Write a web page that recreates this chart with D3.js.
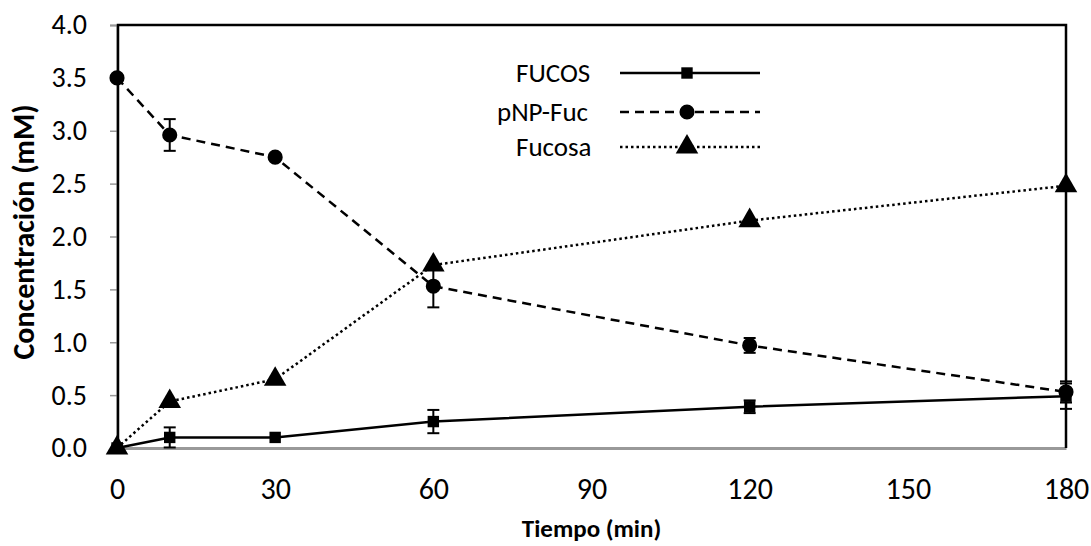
<!DOCTYPE html>
<html>
<head>
<meta charset="utf-8">
<script src="https://cdn.jsdelivr.net/npm/d3@7"></script>
<style>
  body { margin: 0; background: #fff; }
  text { font-family: Carlito, Lato, "Open Sans", sans-serif; fill: #000; }
</style>
</head>
<body>
<script>
// data
var tiempo = [0, 10, 30, 60, 120, 180]
var fucos = [0, 0.1, 0.1, 0.25, 0.39, 0.49]
var fucosErr = [0, 0.095, 0, 0.11, 0.06, 0.12]
var pnpFuc = [3.5, 2.96, 2.75, 1.53, 0.97, 0.53]
var pnpFucErr = [0, 0.15, 0, 0.2, 0.07, 0.1]
var fucosa = [0, 0.44, 0.65, 1.73, 2.15, 2.48]
var xTicks = [0, 30, 60, 90, 120, 150, 180]
var yTicks = [0, 0.5, 1, 1.5, 2, 2.5, 3, 3.5, 4]

var w = 1091, h = 546
var margin = {left: 117, right: 25, top: 25, bottom: 98}

var svg = d3.select('body').append('svg')
    .attr('width', w)
    .attr('height', h)

var x = d3.scaleLinear().domain([0, 180]).range([margin.left, w - margin.right])
var y = d3.scaleLinear().domain([0, 4]).range([h - margin.bottom, margin.top])

// y ticks + labels
var yAxis = svg.append('g')
    .attr('transform', 'translate(' + margin.left + ',0)')
    .call(d3.axisLeft(y).tickValues(yTicks).tickSize(7).tickPadding(23).tickFormat(d3.format('.1f')))
yAxis.select('.domain').attr('stroke', '#999').attr('stroke-width', 2)
yAxis.selectAll('.tick line').attr('stroke', '#999').attr('stroke-width', 1.5)
yAxis.selectAll('.tick text').style('font-size', '28px')

// x axis (no tick marks)
var xAxis = svg.append('g')
    .attr('transform', 'translate(0,' + y(0) + ')')
    .call(d3.axisBottom(x).tickValues(xTicks).tickSize(0).tickPadding(30))
xAxis.select('.domain').attr('stroke', '#999').attr('stroke-width', 3)
xAxis.selectAll('.tick text').style('font-size', '30px')

// plot area border (top, right, left)
svg.append('path')
    .attr('d', 'M' + (x(0) + 1) + ',' + y(0) + 'V' + y(4) + 'H' + x(180) + 'V' + y(0))
    .attr('fill', 'none')
    .attr('stroke', '#000')
    .attr('stroke-width', 2.5)

// axis titles
svg.append('text')
    .attr('x', (x(0) + x(180)) / 2)
    .attr('y', 537)
    .attr('text-anchor', 'middle')
    .style('font-size', '25px')
    .style('font-weight', 'bold')
    .text('Tiempo (min)')

svg.append('text')
    .attr('transform', 'translate(34,232) rotate(-90)')
    .attr('text-anchor', 'middle')
    .style('font-size', '30px')
    .style('font-weight', 'bold')
    .text('Concentración (mM)')

var series = [
    {name: 'FUCOS', vals: fucos, err: fucosErr, dash: null, shape: d3.symbolSquare, size: 130, lx: 516, ly: 73},
    {name: 'pNP-Fuc', vals: pnpFuc, err: pnpFucErr, dash: '9,6', shape: d3.symbolCircle, size: 180, lx: 497, ly: 112},
    {name: 'Fucosa', vals: fucosa, err: null, dash: '2.5,3', shape: d3.symbolTriangle, size: 220, lx: 516, ly: 147}
]

var line = d3.line()
    .x(function(d) { return x(d[0]) })
    .y(function(d) { return y(d[1]) })

series.forEach(function(s) {
    var pts = tiempo.map(function(t, i) { return [t, s.vals[i], s.err ? s.err[i] : 0] })

    svg.append('path')
        .datum(pts)
        .attr('d', line)
        .attr('fill', 'none')
        .attr('stroke', '#000')
        .attr('stroke-width', 2.5)
        .attr('stroke-dasharray', s.dash)

    // error bars
    if (s.err) {
        var eb = svg.append('g').selectAll('g')
            .data(pts.filter(function(d) { return d[2] > 0 }))
            .enter().append('g')
            .attr('stroke', '#000')
            .attr('stroke-width', 2)
        eb.append('line')
            .attr('x1', function(d) { return x(d[0]) })
            .attr('x2', function(d) { return x(d[0]) })
            .attr('y1', function(d) { return y(d[1] - d[2]) })
            .attr('y2', function(d) { return y(d[1] + d[2]) })
        eb.append('line')
            .attr('x1', function(d) { return x(d[0]) - 6 })
            .attr('x2', function(d) { return x(d[0]) + 6 })
            .attr('y1', function(d) { return y(d[1] - d[2]) })
            .attr('y2', function(d) { return y(d[1] - d[2]) })
        eb.append('line')
            .attr('x1', function(d) { return x(d[0]) - 6 })
            .attr('x2', function(d) { return x(d[0]) + 6 })
            .attr('y1', function(d) { return y(d[1] + d[2]) })
            .attr('y2', function(d) { return y(d[1] + d[2]) })
    }

    svg.append('g').selectAll('path')
        .data(pts)
        .enter().append('path')
        .attr('d', d3.symbol().type(s.shape).size(s.size))
        .attr('transform', function(d) { return 'translate(' + x(d[0]) + ',' + y(d[1]) + ')' })
        .attr('fill', '#000')

    // legend entry
    svg.append('text')
        .attr('x', s.lx)
        .attr('y', s.ly)
        .attr('dy', '0.35em')
        .style('font-size', '27px')
        .text(s.name)
    svg.append('line')
        .attr('x1', 620).attr('x2', 760)
        .attr('y1', s.ly).attr('y2', s.ly)
        .attr('stroke', '#000')
        .attr('stroke-width', 2.5)
        .attr('stroke-dasharray', s.dash)
    svg.append('path')
        .attr('d', d3.symbol().type(s.shape).size(s.size))
        .attr('transform', 'translate(687,' + s.ly + ')')
        .attr('fill', '#000')
})
</script>
</body>
</html>
